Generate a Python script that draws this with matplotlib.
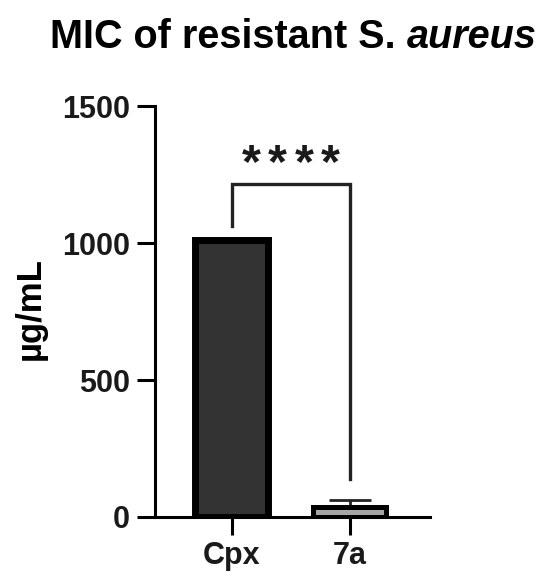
import matplotlib
matplotlib.use("Agg")
import matplotlib.pyplot as plt

categories = ["Cpx", "7a"]
values = [1010, 35]
errors = [0, 27]
yticks = [0, 500, 1000, 1500]
bracket_top = 1215
bracket_left_bottom = 1062
bracket_right_bottom = 139
stars = "****"

plt.rcParams['font.family'] = ['Liberation Sans', 'DejaVu Sans']

fig = plt.figure(figsize=(5.5, 5.8), dpi=100)
ax = fig.add_axes([155/550, 63/580, 275/550, 411/580])

x = [0, 1]
fills = ["#333333", "#a6a6a6"]
lws = [5.0, 3.6]
for xi, v, c, lw in zip(x, values, fills, lws):
    ax.bar(xi, v, width=0.62, color=c, edgecolor="black", linewidth=lw, zorder=2)
ax.errorbar(x[1], values[1], yerr=[[0], [errors[1]]], fmt="none", ecolor="#222222",
            elinewidth=2.0, capsize=15, capthick=2.0, zorder=1)

ax.set_xlim(-0.65, 1.68)
ax.set_ylim(0, 1500)
ax.set_yticks(yticks)
ax.set_xticks(x)
ax.set_xticklabels(categories)

for s in ["top", "right"]:
    ax.spines[s].set_visible(False)
for s in ["left", "bottom"]:
    ax.spines[s].set_linewidth(2.2)
ax.tick_params(axis="both", length=13, width=2.2, labelsize=22)
ax.tick_params(axis="y", pad=5)
ax.tick_params(axis="x", pad=4)
for lab in ax.get_xticklabels() + ax.get_yticklabels():
    lab.set_fontweight("bold")
    lab.set_color("#1a1a1a")

ax.set_ylabel("µg/mL", fontsize=25, fontweight="bold")
ax.yaxis.set_label_coords(-0.393, 0.506)

# significance bracket
ax.plot([x[0], x[0], x[1], x[1]],
        [bracket_left_bottom, bracket_top, bracket_top, bracket_right_bottom],
        color="#222222", lw=2.4, clip_on=False, solid_joinstyle="miter")
star_step = 0.225
n = len(stars)
for i, ch in enumerate(stars):
    xs = 0.5 + (i - (n - 1) / 2) * star_step
    ax.text(xs, 1240, ch, ha="center", va="baseline", fontsize=35,
            fontweight="bold", color="#1a1a1a", clip_on=False)

fig.text(0.74, 0.917, r"MIC of resistant S. ", fontsize=28.5, fontweight="bold",
         ha="right", va="baseline")
fig.text(0.74, 0.917, "aureus", fontsize=28.5, fontweight="bold", style="italic",
         ha="left", va="baseline")

fig.savefig("out.png", dpi=100)
